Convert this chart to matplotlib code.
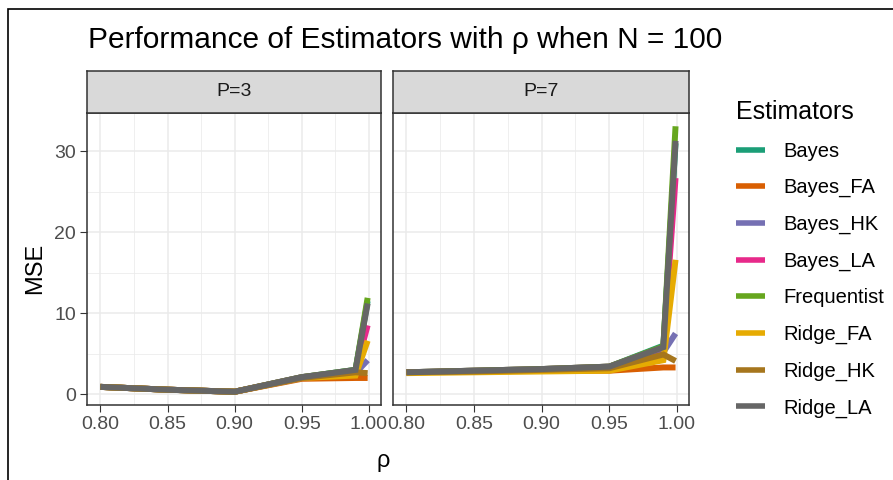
import numpy as np
import matplotlib.pyplot as plt
from matplotlib.lines import Line2D
from matplotlib.patches import Rectangle

plt.rcParams["font.family"] = ["Liberation Sans", "DejaVu Sans"]

# correlation levels on the x axis
rho = [0.80, 0.85, 0.90, 0.95, 0.99, 0.999]

estimators = ["Bayes", "Bayes_FA", "Bayes_HK", "Bayes_LA",
              "Frequentist", "Ridge_FA", "Ridge_HK", "Ridge_LA"]
# Dark2 palette, same order as estimators
colors = ["#1B9E77", "#D95F02", "#7570B3", "#E7298A",
          "#66A61E", "#E6AB02", "#A6761D", "#666666"]

panels = ["P=3", "P=7"]

# MSE per estimator (rows follow `estimators`), P = 3
mse_p3 = [
    [0.9, 0.55, 0.3, 2.1, 3.0, 11.5],
    [0.9, 0.55, 0.3, 1.9, 2.0, 2.0],
    [0.9, 0.55, 0.3, 2.0, 2.6, 4.2],
    [0.9, 0.55, 0.3, 2.1, 2.9, 8.5],
    [0.9, 0.55, 0.3, 2.1, 3.0, 11.9],
    [0.9, 0.55, 0.3, 2.0, 2.3, 6.6],
    [0.9, 0.55, 0.3, 2.0, 2.7, 2.6],
    [0.9, 0.55, 0.3, 2.1, 3.0, 11.2],
]

# MSE per estimator, P = 7
mse_p7 = [
    [2.7, 2.9, 3.1, 3.4, 6.0, 31.0],
    [2.7, 2.8, 2.9, 2.9, 3.3, 3.3],
    [2.7, 2.8, 3.0, 3.1, 5.2, 7.5],
    [2.7, 2.9, 3.1, 3.4, 5.8, 26.7],
    [2.7, 2.9, 3.1, 3.4, 5.9, 33.1],
    [2.6, 2.7, 2.8, 2.9, 4.2, 16.6],
    [2.7, 2.8, 3.0, 3.2, 4.9, 4.1],
    [2.7, 2.9, 3.1, 3.4, 5.8, 31.3],
]

x_ticks = [0.80, 0.85, 0.90, 0.95, 1.00]
x_tick_labels = ["0.80", "0.85", "0.90", "0.95", "1.00"]
y_ticks = [0, 10, 20, 30]

W, H = 893, 480
fig = plt.figure(figsize=(W / 100, H / 100), dpi=100)


def fx(px):
    return px / W


def fy(py):
    return 1 - py / H


# ggplot-like 5% expansion of the shared scales
all_vals = np.array(mse_p3 + mse_p7)
y_lo, y_hi = all_vals.min(), all_vals.max()
y_pad = 0.05 * (y_hi - y_lo)
x_pad = 0.05 * (max(rho) - min(rho))

panel_px = [(87, 381), (393, 689)]
top_px, strip_top_px, bottom_px = 113, 71, 405
dark = "#333333"
grid_col = "#EBEBEB"

for i, (name, data) in enumerate(zip(panels, [mse_p3, mse_p7])):
    left, right = panel_px[i]
    ax = fig.add_axes([fx(left), fy(bottom_px), fx(right - left),
                       (bottom_px - top_px) / H])
    for est, col, vals in zip(estimators, colors, data):
        ax.plot(rho, vals, color=col, lw=4.3, solid_capstyle="butt",
                solid_joinstyle="miter", zorder=3)

    ax.set_xlim(min(rho) - x_pad, max(rho) + x_pad)
    ax.set_ylim(y_lo - y_pad, y_hi + y_pad)
    ax.set_xticks(x_ticks)
    ax.set_xticklabels(x_tick_labels)
    ax.set_xticks([0.825, 0.875, 0.925, 0.975], minor=True)
    ax.set_yticks(y_ticks)
    ax.set_yticks([5, 15, 25], minor=True)
    ax.grid(True, which="major", color=grid_col, lw=1.1, zorder=0)
    ax.grid(True, which="minor", color=grid_col, lw=0.55, zorder=0)
    ax.set_axisbelow(True)
    ax.tick_params(which="major", length=5, width=0.8, color=dark,
                   labelsize=14, labelcolor="#4D4D4D", pad=3)
    ax.tick_params(which="minor", length=0)
    if i > 0:
        ax.tick_params(axis="y", labelleft=False, length=0)
    for s in ax.spines.values():
        s.set_color(dark)
        s.set_linewidth(1.1)

    # facet strip
    sax = fig.add_axes([fx(left), fy(top_px), fx(right - left),
                        (top_px - strip_top_px) / H])
    sax.set_facecolor("#D9D9D9")
    sax.set_xticks([])
    sax.set_yticks([])
    for s in sax.spines.values():
        s.set_color(dark)
        s.set_linewidth(1.1)
    sax.text(0.5, 0.5, name, ha="center", va="center", fontsize=14,
             color="#1A1A1A", transform=sax.transAxes)

fig.text(fx(88), fy(40), "Performance of Estimators with \u03c1 when N = 100",
         ha="left", va="center", fontsize=21.5, color="black")
fig.text(fx(35), fy(268), "MSE", rotation=90, ha="center", va="center",
         fontsize=17)
fig.text(fx(383), fy(461), "\u03c1", ha="center", va="center", fontsize=17)

handles = [Line2D([], [], color=c, lw=4, solid_capstyle="butt") for c in colors]
leg = fig.legend(handles, estimators, loc="upper left",
                 bbox_to_anchor=(fx(718), fy(82)), frameon=False,
                 fontsize=14.5, title="Estimators", title_fontsize=18,
                 handlelength=1.45, handletextpad=0.9, labelspacing=0.87)
leg._legend_box.align = "left"

# outer frame of the screenshot
fig.patches.append(Rectangle((fx(8), -0.05), 1.2, fy(9) + 0.05,
                             transform=fig.transFigure, fill=False,
                             edgecolor="black", lw=1.2))

fig.savefig("out.png", dpi=100)
